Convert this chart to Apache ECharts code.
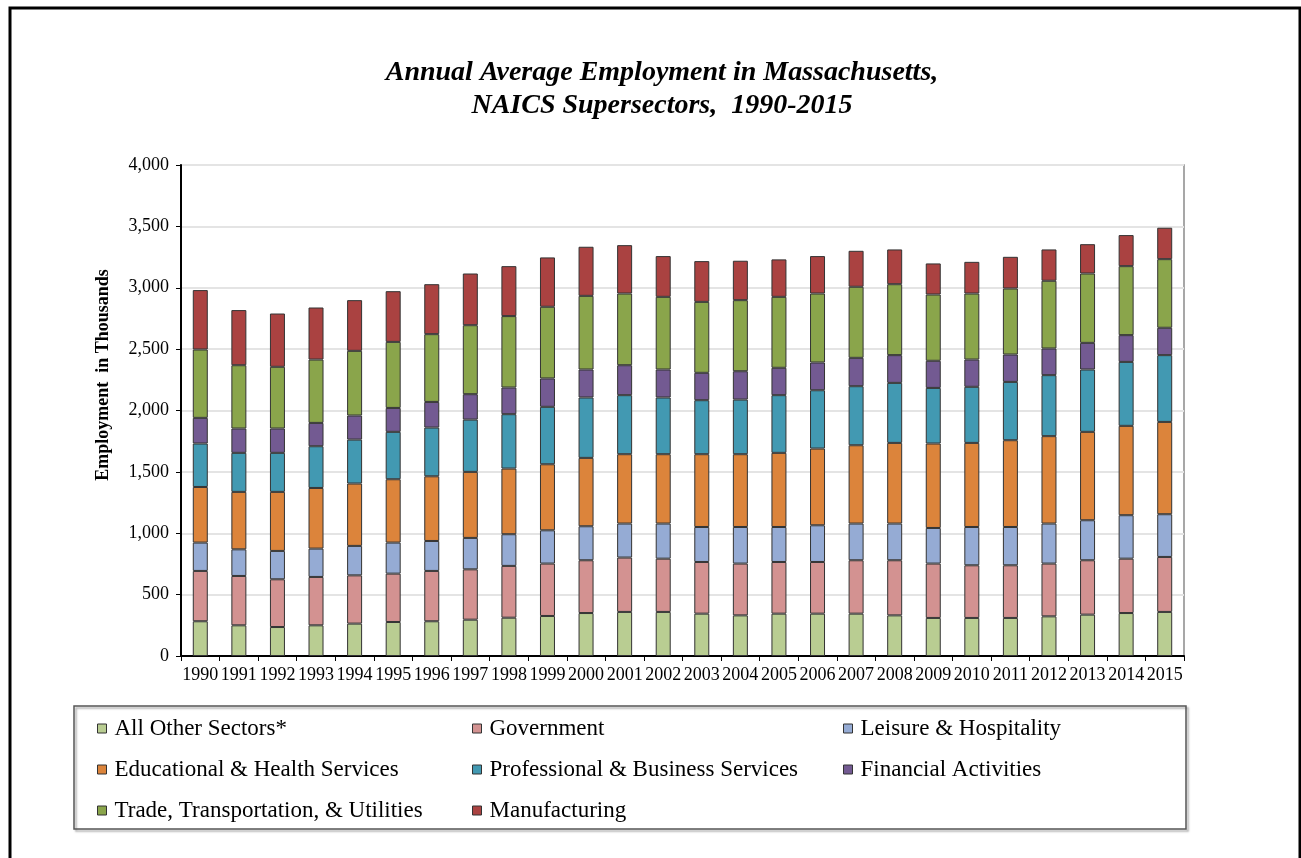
<!DOCTYPE html>
<html>
<head>
<meta charset="utf-8">
<script src="https://cdn.jsdelivr.net/npm/echarts@6/dist/echarts.min.js"></script>
<style>
  html, body { margin: 0; padding: 0; background: #fff; }
  #chart { width: 1301px; height: 858px; }
</style>
</head>
<body>
<div id="chart"></div>
<script>
// years on the x axis
var years = ['1990','1991','1992','1993','1994','1995','1996','1997','1998','1999','2000','2001','2002',
             '2003','2004','2005','2006','2007','2008','2009','2010','2011','2012','2013','2014','2015'];

// employment in thousands (stack order bottom -> top)
var allOther      = [283,250,236,250,264,277,283,296,312,326,350,359,359,345,331,345,345,345,331,310,310,310,323,337,350,359];
var government    = [410,402,389,394,393,394,410,410,422,427,430,443,434,421,422,421,421,435,449,443,429,429,430,443,443,448];
var leisure       = [231,217,231,231,240,253,244,256,258,271,277,277,286,285,298,285,299,299,299,290,312,312,326,326,354,348];
var edHealth      = [453,468,481,494,508,516,527,538,535,538,557,565,565,593,593,604,625,638,657,688,685,707,712,720,728,752];
var profBusiness  = [354,318,318,340,358,386,397,426,443,468,492,481,462,440,445,470,475,481,489,453,457,475,497,508,521,544];
var financial     = [209,198,198,190,196,195,209,207,217,231,228,244,228,223,231,223,226,231,226,221,222,223,217,217,218,223];
var trade         = [557,516,503,516,527,538,552,562,582,584,600,584,592,578,579,578,562,579,578,540,538,538,552,565,562,559];
var manufacturing = [484,449,434,424,413,413,407,421,407,402,400,394,332,332,321,305,305,293,283,253,258,258,255,239,253,256];

var yTicks = [0, 500, 1000, 1500, 2000, 2500, 3000, 3500, 4000];

var names = ['All Other Sectors*', 'Government', 'Leisure & Hospitality', 'Educational & Health Services',
             'Professional & Business Services', 'Financial Activities', 'Trade, Transportation, & Utilities', 'Manufacturing'];
var colors = ['#b9cd92', '#d39291', '#95abd4', '#dc843b', '#4299b2', '#735a92', '#8aa54b', '#aa4241'];
var values = [allOther, government, leisure, edHealth, profBusiness, financial, trade, manufacturing];

var font = 'Liberation Serif';

var chart = echarts.init(document.getElementById('chart'));

var series = [];
for (var i = 0; i < names.length; i++) {
  series.push({
    name: names[i],
    type: 'bar',
    stack: 'emp',
    data: values[i],
    barWidth: 15,
    itemStyle: { color: colors[i], borderColor: '#333', borderWidth: 1 }
  });
}

// legend in three columns, like the original
function legendCol(left, data) {
  return {
    orient: 'vertical',
    left: left,
    top: 717,
    padding: 0,
    itemGap: 18,
    itemWidth: 9,
    itemHeight: 9,
    icon: 'rect',
    selectedMode: false,
    data: data,
    itemStyle: { borderColor: '#333', borderWidth: 1 },
    textStyle: { fontFamily: font, fontSize: 23, color: '#000', padding: [0, 0, 0, 3] }
  };
}

var option = {
  animation: false,
  backgroundColor: '#fff',
  title: {
    text: 'Annual Average Employment in Massachusetts,\nNAICS Supersectors,  1990-2015',
    left: 657,
    textAlign: 'center',
    top: 51,
    textStyle: { fontFamily: font, fontSize: 28, fontStyle: 'italic', fontWeight: 'bold', color: '#000', lineHeight: 33 }
  },
  legend: [
    legendCol(97, [names[0], names[3], names[6]]),
    legendCol(472, [names[1], names[4], names[7]]),
    legendCol(843, [names[2], names[5]])
  ],
  grid: { left: 181, right: 117, top: 165, bottom: 202, show: true, borderColor: '#8a8a8a', borderWidth: 1.5 },
  xAxis: {
    type: 'category',
    data: years,
    axisLine: { lineStyle: { color: '#000', width: 2 } },
    axisTick: { show: true, interval: 0, length: 5, lineStyle: { color: '#000' } },
    axisLabel: { interval: 0, margin: 10, fontFamily: font, fontSize: 18, color: '#000' }
  },
  yAxis: {
    type: 'value',
    min: yTicks[0],
    max: yTicks[yTicks.length - 1],
    interval: 500,
    axisLine: { show: true, lineStyle: { color: '#000', width: 2 } },
    axisTick: { show: true, length: 5, lineStyle: { color: '#000' } },
    axisLabel: {
      margin: 12, fontFamily: font, fontSize: 18, color: '#000',
      formatter: function (v) { return v.toLocaleString('en-US'); }
    },
    splitLine: { lineStyle: { color: '#e4e4e4', width: 2 } }
  },
  graphic: [
    {
      // y axis title sits above the middle of the axis in the original
      type: 'text',
      x: 103,
      y: 375,
      rotation: Math.PI / 2,
      style: {
        text: 'Employment  in Thousands',
        fontFamily: font, fontSize: 18, fontWeight: 'bold', fill: '#000',
        align: 'center', verticalAlign: 'middle'
      }
    },
    {
      type: 'rect',
      shape: { x: 74, y: 706, width: 1112, height: 123 },
      style: { fill: 'none', stroke: '#555', lineWidth: 1.5, shadowColor: 'rgba(0,0,0,0.35)', shadowOffsetX: 2, shadowOffsetY: 2, shadowBlur: 2 },
      z: -1
    },
    {
      type: 'polyline',
      shape: { points: [[10, 858], [10, 8], [1300, 8], [1300, 858]] },
      style: { fill: 'none', stroke: '#000', lineWidth: 3 }
    }
  ],
  series: series
};

chart.setOption(option);
</script>
</body>
</html>
